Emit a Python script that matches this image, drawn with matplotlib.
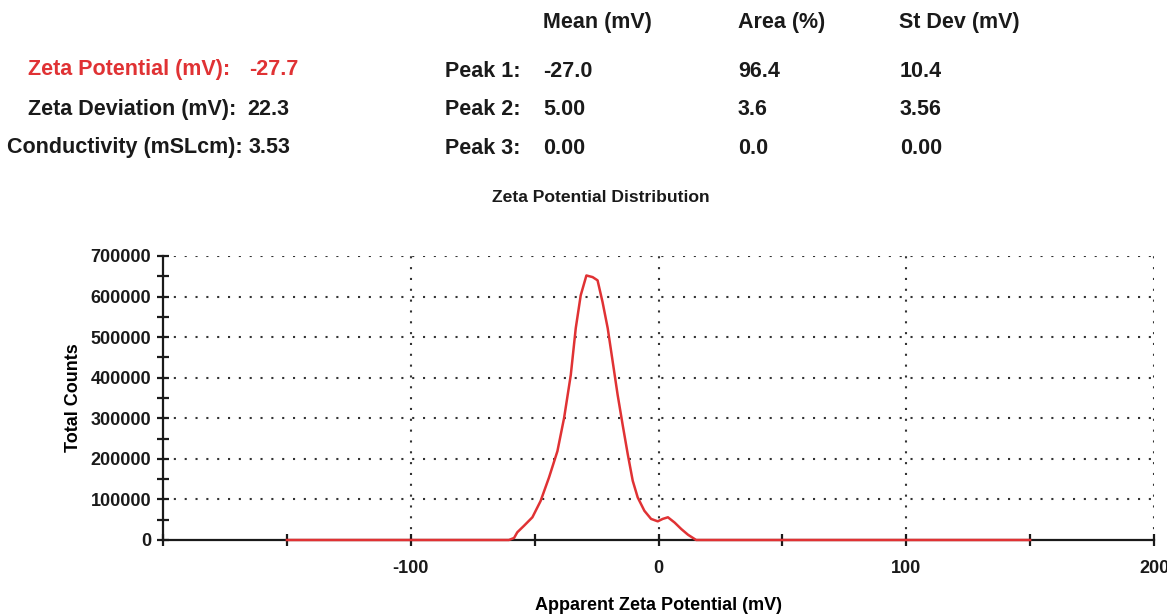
import matplotlib
matplotlib.use("Agg")
import matplotlib.pyplot as plt
from matplotlib.ticker import MultipleLocator

# Distribution curve: apparent zeta potential (mV) vs total counts
zeta_mv = [-150, -60.4, -58.3, -57.0, -54.3, -50.9, -47.6, -44.2, -40.8, -38.1,
           -35.4, -33.4, -31.4, -29.1, -26.6, -24.6, -22.6, -20.5, -18.5, -16.5,
           -14.5, -12.4, -10.4, -8.4, -5.7, -3.0, -0.3, 1.7, 3.8, 6.5, 9.2,
           11.9, 15.2, 150]
total_counts = [0, 0, 5000, 19000, 35000, 56000, 96000, 154000, 219000, 301000,
                407000, 522000, 603000, 652000, 648000, 640000, 587000, 522000,
                440000, 358000, 285000, 211000, 146000, 105000, 72000, 52000,
                46000, 52000, 56000, 43000, 27000, 13000, 0, 0]

x_ticks = [-200, -150, -100, -50, 0, 50, 100, 150, 200]
x_tick_labels = ["", "", "-100", "", "0", "", "100", "", "200"]
y_ticks = [0, 100000, 200000, 300000, 400000, 500000, 600000, 700000]
y_tick_labels = ["0", "100000", "200000", "300000", "400000", "500000",
                 "600000", "700000"]

summary_labels = ["Zeta Potential (mV):", "Zeta Deviation (mV):", "Conductivity (mSLcm):"]
summary_values = ["-27.7", "22.3", "3.53"]
peak_names = ["Peak 1:", "Peak 2:", "Peak 3:"]
peak_mean = ["-27.0", "5.00", "0.00"]
peak_area = ["96.4", "3.6", "0.0"]
peak_stdev = ["10.4", "3.56", "0.00"]
column_headers = ["Mean (mV)", "Area (%)", "St Dev (mV)"]

FONT = ["Liberation Sans", "DejaVu Sans"]
RED = "#e03234"
INK = "#1a1a1a"
W, H = 1167, 614

fig = plt.figure(figsize=(W / 100, H / 100), dpi=100)
ax = fig.add_axes([163 / W, 1 - 540 / H, (1154 - 163) / W, (540 - 256) / H])


def fx(px):
    return px / W


def fy(py):
    return 1 - py / H


# Header block (positions are text baselines in pixels)
hdr = dict(fontsize=15.5, fontweight="bold", family=FONT, va="baseline")
for label, x in zip(column_headers, [543, 738, 899]):
    fig.text(fx(x), fy(28), label, color=INK, **hdr)

left_base = [75, 115, 153]
right_base = [77, 115, 154]
lab_x = [28, 28, 7]
val_x = [249, 247, 249]
for i in range(3):
    col = RED if i == 0 else INK
    fig.text(fx(lab_x[i]), fy(left_base[i]), summary_labels[i], color=col, **hdr)
    fig.text(fx(val_x[i]), fy(left_base[i]), summary_values[i], color=col, **hdr)
    yb = fy(right_base[i])
    fig.text(fx(445), yb, peak_names[i], color=INK, **hdr)
    fig.text(fx(543), yb, peak_mean[i], color=INK, **hdr)
    fig.text(fx(738), yb, peak_area[i], color=INK, **hdr)
    fig.text(fx(900), yb, peak_stdev[i], color=INK, **hdr)

fig.text(fx(601), fy(202), "Zeta Potential Distribution", ha="center", va="baseline",
         fontsize=12.6, fontweight="bold", family=FONT, color=INK)

# Plot
ax.plot(zeta_mv, total_counts, color=RED, lw=1.8, zorder=5, clip_on=False)

ax.set_xlim(-200, 200)
ax.set_ylim(0, 700000)
ax.set_xticks(x_ticks)
ax.set_xticklabels(x_tick_labels)
ax.set_yticks(y_ticks)
ax.set_yticklabels(y_tick_labels)
ax.yaxis.set_minor_locator(MultipleLocator(50000))

for side in ["top", "right"]:
    ax.spines[side].set_visible(False)
for side in ["left", "bottom"]:
    ax.spines[side].set_color(INK)
    ax.spines[side].set_linewidth(1.6)

ax.tick_params(axis="both", which="both", direction="inout", length=9, width=1.6,
               color=INK)
ax.tick_params(axis="x", pad=10)
ax.tick_params(axis="y", pad=4)
for lbl in ax.get_xticklabels() + ax.get_yticklabels():
    lbl.set_fontsize(13)
    lbl.set_fontweight("bold")
    lbl.set_family(FONT)
    lbl.set_color(INK)

grid_style = dict(color="#333333", lw=1.5, linestyle=(0, (1, 4.2)), zorder=1)
for yv in y_ticks[1:]:
    ax.axhline(yv, **grid_style)
for xv in [-100, 0, 100, 200]:
    ax.axvline(xv, **grid_style)

ax.set_xlabel("Apparent Zeta Potential (mV)", fontsize=13, fontweight="bold",
              family=FONT, labelpad=14)
ax.set_ylabel("Total Counts", fontsize=13, fontweight="bold", family=FONT,
              labelpad=6)

fig.savefig("out.png", dpi=100)
